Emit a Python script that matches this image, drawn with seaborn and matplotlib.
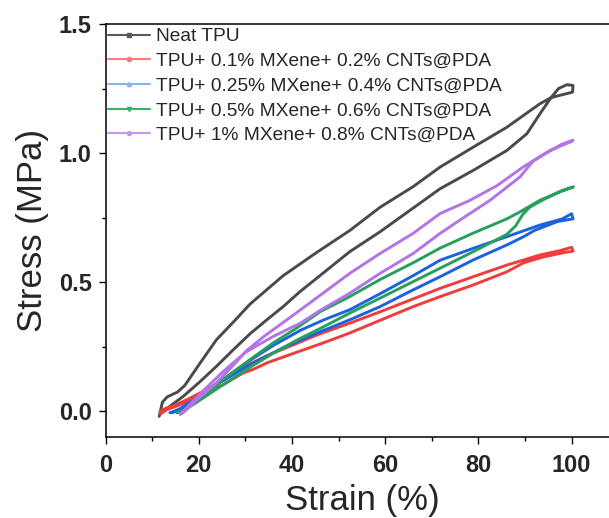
import matplotlib
matplotlib.use("Agg")
import matplotlib.pyplot as plt
import pandas as pd
import seaborn as sns
from matplotlib import font_manager
from matplotlib.lines import Line2D
from matplotlib.ticker import MultipleLocator

# loops: loading branch then unloading branch back to the start
neat_strain = [11.5, 12.2, 13.2, 15.5, 17.0, 20.3, 23.8, 27.4, 31.0, 38.1, 45.3, 52.4, 58.9, 66.0, 71.8, 78.9, 86.1, 93.2, 95.6, 98.0, 100.2, 100.3,
               99.0, 97.2, 95.6, 93.2, 90.4, 86.1, 78.9, 71.8, 66.0, 58.9, 52.4, 45.3, 41.7, 38.1, 34.6, 31.0, 27.4, 23.8, 20.3, 16.7, 13.8, 11.8]
neat_stress = [-0.02, 0.035, 0.055, 0.075, 0.10, 0.187, 0.277, 0.345, 0.415, 0.525, 0.615, 0.700, 0.790, 0.870, 0.946, 1.023, 1.100, 1.191, 1.215, 1.226, 1.236, 1.262,
               1.265, 1.25, 1.215, 1.152, 1.075, 1.010, 0.933, 0.862, 0.787, 0.695, 0.618, 0.515, 0.463, 0.405, 0.354, 0.300, 0.238, 0.174, 0.115, 0.058, 0.019, -0.01]

red_strain = [11.7, 13.0, 14.5, 17.5, 21.7, 25.5, 29.5, 34.6, 40.0, 46.0, 52.4, 58.9, 66.0, 71.8, 78.9, 86.1, 93.2, 97.5, 100.0, 100.3,
              98.5, 94.0, 89.7, 86.1, 78.9, 71.8, 66.0, 58.9, 52.4, 46.0, 40.0, 34.6, 31.7, 29.5, 25.0, 20.0, 16.0, 13.0, 11.7]
red_stress = [0.0, 0.012, 0.02, 0.045, 0.084, 0.125, 0.17, 0.215, 0.255, 0.30, 0.341, 0.385, 0.435, 0.476, 0.521, 0.566, 0.605, 0.622, 0.635, 0.62,
              0.615, 0.598, 0.575, 0.540, 0.489, 0.444, 0.405, 0.352, 0.303, 0.26, 0.222, 0.187, 0.162, 0.148, 0.10, 0.058, 0.025, 0.005, -0.01]

blue_strain = [13.8, 15.5, 17.5, 20.0, 25.0, 30.0, 36.0, 42.0, 47.0, 52.4, 58.9, 66.0, 71.8, 78.9, 86.1, 93.2, 98.0, 100.0, 100.3,
               97.0, 92.0, 89.7, 86.1, 78.9, 71.8, 66.0, 58.9, 52.4, 45.0, 38.0, 30.0, 24.0, 19.0, 16.0, 14.0]
blue_stress = [-0.006, 0.0, 0.02, 0.05, 0.12, 0.185, 0.255, 0.315, 0.355, 0.393, 0.455, 0.525, 0.585, 0.631, 0.676, 0.721, 0.745, 0.765, 0.745,
               0.735, 0.70, 0.676, 0.644, 0.586, 0.521, 0.47, 0.405, 0.354, 0.30, 0.245, 0.17, 0.105, 0.045, 0.01, -0.006]

green_strain = [15.3, 16.5, 18.5, 21.0, 25.0, 31.0, 36.0, 41.0, 46.0, 52.4, 58.9, 66.0, 71.8, 78.9, 86.1, 88.9, 93.2, 97.5, 100.4,
                98.0, 94.0, 91.0, 89.5, 88.0, 86.1, 78.9, 71.8, 66.0, 58.9, 52.4, 46.0, 41.0, 36.0, 31.0, 25.0, 20.0, 17.0, 15.5]
green_stress = [-0.006, 0.0, 0.025, 0.06, 0.12, 0.20, 0.265, 0.322, 0.385, 0.444, 0.51, 0.575, 0.632, 0.69, 0.745, 0.772, 0.817, 0.85, 0.869,
                0.855, 0.82, 0.79, 0.762, 0.718, 0.685, 0.618, 0.554, 0.502, 0.438, 0.380, 0.32, 0.275, 0.225, 0.17, 0.10, 0.04, 0.005, -0.006]

purple_strain = [16.0, 17.0, 20.0, 23.8, 27.0, 30.3, 34.0, 38.9, 45.0, 52.4, 58.9, 66.0, 71.8, 78.2, 84.0, 89.6, 95.4, 100.0, 100.3,
                 98.0, 94.5, 91.8, 88.9, 82.5, 76.0, 71.8, 66.0, 58.9, 52.4, 46.0, 41.7, 36.0, 30.0, 25.0, 21.0, 18.0, 16.2]
purple_stress = [-0.013, 0.0, 0.05, 0.11, 0.17, 0.235, 0.29, 0.354, 0.435, 0.534, 0.611, 0.689, 0.766, 0.817, 0.874, 0.946, 1.01, 1.045, 1.05,
                 1.035, 1.0, 0.97, 0.907, 0.817, 0.74, 0.689, 0.611, 0.534, 0.457, 0.39, 0.34, 0.29, 0.228, 0.15, 0.08, 0.025, -0.01]

labels = ["Neat TPU",
          "TPU+ 0.1% MXene+ 0.2% CNTs@PDA",
          "TPU+ 0.25% MXene+ 0.4% CNTs@PDA",
          "TPU+ 0.5% MXene+ 0.6% CNTs@PDA",
          "TPU+ 1% MXene+ 0.8% CNTs@PDA"]
line_colors = ["#4a4a4a", "#f03c3c", "#1c62e0", "#28a05c", "#b274e6"]
legend_colors = ["#5a5a5a", "#ff7a7a", "#8ab2f0", "#34b46a", "#c396f0"]
legend_markers = ["s", "o", "^", "v", "o"]

strains = [neat_strain, red_strain, blue_strain, green_strain, purple_strain]
stresses = [neat_stress, red_stress, blue_stress, green_stress, purple_stress]

frames = []
for lab, xs, ys in zip(labels, strains, stresses):
    frames.append(pd.DataFrame({"strain": xs, "stress": ys, "sample": lab}))
df = pd.concat(frames, ignore_index=True)

sns.set_style("ticks")
plt.rcParams["font.family"] = ["Liberation Sans", "DejaVu Sans"]
names = {f.name for f in font_manager.fontManager.ttflist}
tick_family = "Liberation Sans Narrow" if "Liberation Sans Narrow" in names else "Liberation Sans"

fig = plt.figure(figsize=(6.09, 5.18), dpi=100)
ax = fig.add_axes([105.6 / 609, 81 / 518, 512.6 / 609, 413 / 518])

sns.lineplot(data=df, x="strain", y="stress", hue="sample", sort=False, estimator=None,
             palette=dict(zip(labels, line_colors)), linewidth=2.1, legend=False, ax=ax)

ax.set_xlim(0, 110)
ax.set_ylim(-0.1, 1.5)
ax.xaxis.set_major_locator(MultipleLocator(20))
ax.xaxis.set_minor_locator(MultipleLocator(10))
ax.yaxis.set_major_locator(MultipleLocator(0.5))
ax.yaxis.set_minor_locator(MultipleLocator(0.25))
ax.tick_params(which="major", length=5, width=1.0, direction="out", color="black")
ax.tick_params(which="minor", length=3, width=1.0, direction="out", color="black")
ax.tick_params(axis="x", which="major", pad=7)
ax.tick_params(axis="y", which="major", pad=5)
ax.set_xticks([0, 20, 40, 60, 80, 100])
ax.set_xticklabels(["0", "20", "40", "60", "80", "100"])
ax.set_yticks([0.0, 0.5, 1.0, 1.5])
ax.set_yticklabels(["0.0", "0.5", "1.0", "1.5"])
for t in ax.get_xticklabels() + ax.get_yticklabels():
    t.set_fontfamily(tick_family)
    t.set_fontweight("bold")
    t.set_fontsize(17)

for s in ax.spines.values():
    s.set_linewidth(1.1)
    s.set_color("black")

ax.set_xlabel("Strain (%)", fontsize=25, labelpad=5)
ax.set_ylabel("Stress (MPa)", fontsize=25, labelpad=7)

handles = [Line2D([0], [0], color=c, lw=1.5, marker=m, markersize=3, markerfacecolor=c, markeredgecolor=c)
           for c, m in zip(legend_colors, legend_markers)]
ax.legend(handles, labels, loc="upper left", bbox_to_anchor=(0.0, 0.995), frameon=False,
          fontsize=13.8, handlelength=2.2, handletextpad=0.35, labelspacing=0.38,
          borderpad=0.0, borderaxespad=0.1)

fig.savefig("out.png", dpi=100)
